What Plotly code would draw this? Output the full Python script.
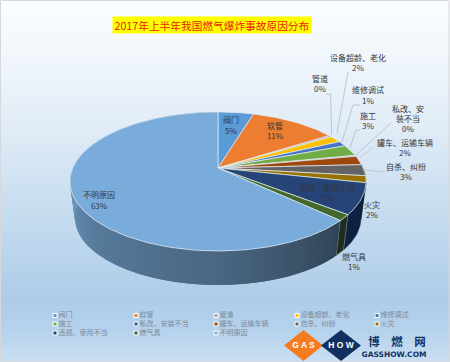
import math
import plotly.graph_objects as go

# ---------- data ----------
categories = ["阀门", "软管", "管道", "设备超龄、老化", "维修调试", "施工", "私改、安装不当",
              "罐车、运输车辆", "自杀、纠纷", "火灾", "违规、使用不当", "燃气具", "不明原因"]
shares = [4.7, 11.4, 0.4, 1.6, 1.2, 2.6, 0.3, 2.1, 2.6, 1.6, 7.2, 1.4, 63.3]
percent_labels = ["5%", "11%", "0%", "2%", "1%", "3%", "0%", "2%", "3%", "2%", "7%", "1%", "63%"]
title_text = "2017年上半年我国燃气爆炸事故原因分布"

# ---------- styles ----------
colors = ["#5b9bd5", "#ed7d31", "#a5a5a5", "#ffc000", "#4472c4", "#70ad47", "#255e91",
          "#9e480e", "#636363", "#997300", "#264478", "#43682b", "#7aacdb"]
label_text = ["阀门", "软管", "管道", "设备超龄、老化", "维修调试", "施工", "私改、安<br>装不当",
              "罐车、运输车辆", "自杀、纠纷", "火灾", "违规、使用不当", "燃气具", "不明原因"]
label_pos = [(231, 126.5), (275, 132), (320, 85), (358, 64), (368, 96.5), (368, 122), (408, 120),
             (405, 149), (406, 173), (372, 211), (327, 194), (354, 263), (99, 201.5)]
leaders = {
    2: [(326, 94), (330.5, 94), (331.7, 135)],
    3: [(348, 72), (337, 133)],
    4: [(360, 105), (353, 105), (342, 142)],
    5: [(360, 130), (356, 130), (350, 148)],
    6: [(391, 123), (356, 155)],
    7: [(373, 147), (360, 158)],
    8: [(385, 172), (364, 170)],
}
W, H = 450, 362
CX, CY, A, B, K = 218.0, 168.0, 145.2, 66.9, 0.194
DROP, SCALE = 36.8, 0.966


def top(theta):
    u, v = math.sin(theta), math.cos(theta)
    d = 1 + K * v
    return CX + A * u / d, CY - B * v / d


def bottom(theta):
    x, y = top(theta)
    return CX + SCALE * (x - CX), CY + DROP + SCALE * (y - CY)


def arc(fn, a0, a1):
    n = max(2, int(abs(a1 - a0) / math.radians(1)) + 1)
    pts = [fn(a0 + (a1 - a0) * i / n) for i in range(n + 1)]
    return pts


def lerp_hex(stops, t):
    for (t0, c0), (t1, c1) in zip(stops, stops[1:]):
        if t <= t1:
            f = (t - t0) / (t1 - t0)
            rgb = [round(c0[i] + (c1[i] - c0[i]) * f) for i in range(3)]
            return "rgb(%d,%d,%d)" % tuple(rgb)
    return "rgb(%d,%d,%d)" % tuple(stops[-1][1])


fig = go.Figure()

# background gradient
bg_y = [0, 60, 120, 180, 240, 300, 330, 362]
bg_colors = ["#fbfdfe", "#f0f6fb", "#e2edf7", "#d0e2f2", "#bed7ed", "#aecce8", "#b6d2ec", "#cadff2"]
span = bg_y[-1]
fig.add_trace(go.Heatmap(
    x=[-5, W + 5], y=bg_y, z=[[v, v] for v in bg_y], zsmooth="best", showscale=False, hoverinfo="skip",
    colorscale=[[v / span, c] for v, c in zip(bg_y, bg_colors)], zmin=0, zmax=span))

# slice angles
total = sum(shares)
angles = [0.0]
for s in shares:
    angles.append(angles[-1] + s / total * 2 * math.pi)

# wall
wall_stops = [(0, (47, 66, 84)), (130, (47, 66, 84)), (180, (74, 102, 130)),
              (230, (88, 124, 158)), (270, (112, 152, 188)), (360, (112, 152, 188))]
wall_dark = {9: "#4d3b05", 10: "#0f2140", 11: "#1e2c22"}
for i, s in enumerate(shares):
    a0, a1 = angles[i], angles[i + 1]
    if a1 < math.radians(88):
        continue
    if i == len(shares) - 1:
        # draw back-to-front so each strip overlaps its neighbour and no seams remain
        step = math.radians(1.5)
        n = int((a1 - a0) / step) + 1
        for j in range(n):
            b0 = a0 + (a1 - a0) * j / n
            b1 = a0 + (a1 - a0) * (j + 1) / n
            b2 = min(a1, b1 + step)
            pts = arc(top, b0, b2) + arc(bottom, b2, b0)
            pts.append(pts[0])
            c = lerp_hex(wall_stops, math.degrees((b0 + b1) / 2))
            fig.add_trace(go.Scatter(x=[p[0] for p in pts], y=[p[1] for p in pts], mode="lines",
                                     fill="toself", fillcolor=c, line=dict(color=c, width=0),
                                     hoverinfo="skip"))
    else:
        pts = arc(top, a0, a1) + arc(bottom, a1, a0)
        pts.append(pts[0])
        c = wall_dark.get(i, "#3a3a3a")
        edge = "#8fa18a" if i == 11 else c
        fig.add_trace(go.Scatter(x=[p[0] for p in pts], y=[p[1] for p in pts], mode="lines",
                                 fill="toself", fillcolor=c, line=dict(color=edge, width=0.5),
                                 hoverinfo="skip"))

# top face
for i, s in enumerate(shares):
    pts = [(CX, CY)] + arc(top, angles[i], angles[i + 1]) + [(CX, CY)]
    fig.add_trace(go.Scatter(x=[p[0] for p in pts], y=[p[1] for p in pts], mode="lines", fill="toself",
                             fillcolor=colors[i], line=dict(color="#e4edf5", width=0.7), hoverinfo="skip"))

# leader lines
for pts in leaders.values():
    fig.add_trace(go.Scatter(x=[p[0] for p in pts], y=[p[1] for p in pts], mode="lines",
                             line=dict(color="#b4bcc4", width=0.8), hoverinfo="skip"))

# data labels
fig.add_trace(go.Scatter(
    x=[p[0] for p in label_pos], y=[p[1] for p in label_pos], mode="text",
    text=[f"{n}<br>{p}" for n, p in zip(label_text, percent_labels)],
    textposition="middle center", hoverinfo="skip",
    textfont=dict(family="Noto Sans CJK SC", size=8, color="#33363b")))

# legend
leg_x = [55, 136, 216, 297, 377]
leg_y = [315.5, 324, 333]
for i, name in enumerate(categories):
    r, c = divmod(i, 5)
    fig.add_trace(go.Scatter(
        x=[leg_x[c]], y=[leg_y[r]], mode="markers+text", text=[name], textposition="middle right",
        marker=dict(symbol="square", size=4, color=colors[i], line=dict(color="#ffffff", width=1)),
        textfont=dict(family="Noto Sans CJK SC", size=7, color="#7c8a99"), hoverinfo="skip"))

# logo
logo_d = [((303.5, 330), (323, 345.5), (303.5, 361), (284, 345.5)), ((341, 330), (361, 345.5), (341, 361), (321, 345.5))]
for poly, c in zip(logo_d, ["#f47b20", "#12305f"]):
    pts = list(poly) + [poly[0]]
    fig.add_trace(go.Scatter(x=[p[0] for p in pts], y=[p[1] for p in pts], mode="lines", fill="toself",
                             fillcolor=c, line=dict(color=c, width=0), hoverinfo="skip"))
fig.add_trace(go.Scatter(x=[303.5, 341], y=[345.5, 345.5], mode="text", text=["G A S", "H O W"], hoverinfo="skip",
                         textfont=dict(family="Liberation Sans", size=8.5, color="#ffffff", weight="bold")))
fig.add_trace(go.Scatter(x=[397], y=[343.5], mode="text", text=["博\u2003燃\u2003网"], hoverinfo="skip",
                         textfont=dict(family="Noto Sans CJK SC", size=11.5, color="#12305f", weight="bold")))
fig.add_trace(go.Scatter(x=[394], y=[355], mode="text", text=["GASSHOW.COM"], hoverinfo="skip",
                         textfont=dict(family="DejaVu Sans", size=7.5, color="#12305f", weight="bold")))

fig.update_layout(
    width=W, height=H, margin=dict(l=0, r=0, t=0, b=0), showlegend=False,
    paper_bgcolor="#ffffff", plot_bgcolor="#ffffff",
    xaxis=dict(range=[0, W], visible=False, fixedrange=True),
    yaxis=dict(range=[H, 0], visible=False, fixedrange=True),
    annotations=[dict(x=212, y=25, xref="x", yref="y", text=title_text, showarrow=False, bgcolor="#ffff00",
                      width=198, height=16, borderpad=0,
                      font=dict(family="Noto Sans CJK SC", size=10.7, color="#e8200a"))],
    shapes=[dict(type="rect", x0=0.5, y0=0.5, x1=W - 1, y1=H, line=dict(color="#d5d8dc", width=1), layer="above")],
)
fig.write_html("out.html", config={"displayModeBar": False},
               post_script="document.body.style.margin='0';document.documentElement.style.overflow='hidden';")
